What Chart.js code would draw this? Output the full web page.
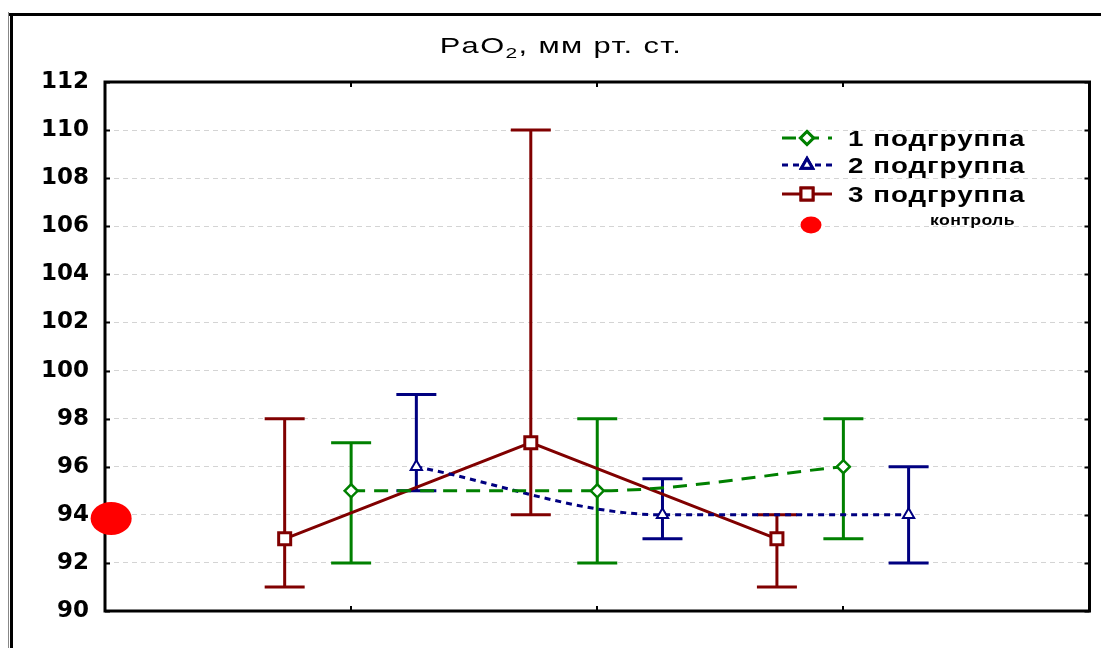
<!DOCTYPE html>
<html><head><meta charset="utf-8">
<script src="https://cdn.jsdelivr.net/npm/chart.js@4/dist/chart.umd.min.js"></script>
<style>html,body{margin:0;padding:0;background:#fff;} #wrap{width:1101px;height:648px;position:relative;}</style>
</head><body><div id="wrap"><canvas id="c" width="1101" height="648"></canvas></div>
<script>
// ---- data ----
const categories = ['1', '2', '3'];
const seriesNames = ['1 подгруппа', '2 подгруппа', '3 подгруппа'];
const controlName = 'контроль';
const titleMain = 'PaO';
const titleSub = '2';
const titleRest = ', мм рт. ст.';
const g1Mean = [95, 95, 96];
const g1Low  = [92, 92, 93];
const g1High = [97, 98, 98];
const g2Mean = [96, 94, 94];
const g2Low  = [95, 93, 92];
const g2High = [99, 95.5, 96];
const g3Mean = [93, 97, 93];
const g3Low  = [91, 94, 91];
const g3High = [98, 110, 94];
const controlValue = [93.85];
const yTicks = [90, 92, 94, 96, 98, 100, 102, 104, 106, 108, 110, 112];

// ---- layout / style ----
const offsets = [0, 0.265, -0.27];
const controlX = 0.025;
const colors = ['#008000', '#000080', '#800000'];

function pts(means, off) { return means.map((v, i) => ({ x: i + 1 + off, y: v })); }

function drawStretched(ctx, text, x, y, font, sx, spacing) {
  ctx.save();
  ctx.font = font; ctx.letterSpacing = spacing + 'px';
  ctx.translate(x, y); ctx.scale(sx, 1);
  ctx.fillText(text, 0, 0);
  ctx.restore();
}

const errorBars = {
  id: 'errorBars',
  beforeDatasetsDraw(chart) {
    const { ctx, chartArea: a, scales: { x, y } } = chart;
    ctx.save();
    ctx.strokeStyle = '#000'; ctx.lineWidth = 3;
    ctx.strokeRect(a.left, a.top, a.right - a.left, a.bottom - a.top);
    ctx.lineWidth = 2;
    yTicks.forEach(t => {
      const py = Math.round(y.getPixelForValue(t)) + 0.5;
      ctx.beginPath();
      ctx.moveTo(a.left, py); ctx.lineTo(a.left + 5, py);
      ctx.moveTo(a.right, py); ctx.lineTo(a.right - 5, py);
      ctx.stroke();
    });
    categories.forEach((c, i) => {
      const px = Math.round(x.getPixelForValue(i + 1));
      ctx.beginPath();
      ctx.moveTo(px, a.top); ctx.lineTo(px, a.top + 5);
      ctx.moveTo(px, a.bottom); ctx.lineTo(px, a.bottom - 5);
      ctx.stroke();
    });
    chart.data.datasets.forEach(ds => {
      if (!ds.low) return;
      ctx.strokeStyle = ds.borderColor; ctx.lineWidth = 3; ctx.setLineDash([]);
      ds.data.forEach((p, i) => {
        const px = x.getPixelForValue(p.x);
        const yl = y.getPixelForValue(ds.low[i]);
        const yh = y.getPixelForValue(ds.high[i]);
        ctx.beginPath();
        ctx.moveTo(px, yl); ctx.lineTo(px, yh);
        ctx.moveTo(px - 20, yl); ctx.lineTo(px + 20, yl);
        ctx.moveTo(px - 20, yh); ctx.lineTo(px + 20, yh);
        ctx.stroke();
      });
    });
    ctx.restore();
  },
  afterDraw(chart) {
    const { ctx } = chart;
    ctx.save();
    // outer frame
    ctx.strokeStyle = '#000'; ctx.lineWidth = 3;
    ctx.beginPath(); ctx.moveTo(8, 14.5); ctx.lineTo(1101, 14.5); ctx.stroke();
    ctx.beginPath(); ctx.moveTo(11.5, 13); ctx.lineTo(11.5, 648); ctx.stroke();
    ctx.strokeStyle = '#888'; ctx.lineWidth = 1;
    ctx.beginPath(); ctx.moveTo(8.5, 12); ctx.lineTo(8.5, 648); ctx.stroke();

    // title
    ctx.fillStyle = '#000'; ctx.textBaseline = 'alphabetic'; ctx.textAlign = 'left';
    const sx = 1.4;
    ctx.letterSpacing = '1px';
    const fMain = '22px "Liberation Sans", Arial, sans-serif';
    const fSub = '15px "Liberation Sans", Arial, sans-serif';
    ctx.font = fMain; const w1 = ctx.measureText(titleMain).width;
    ctx.font = fSub; const w2 = ctx.measureText(titleSub).width;
    ctx.font = fMain; const w3 = ctx.measureText(titleRest).width;
    const total = (w1 + w2 + w3) * sx;
    ctx.translate(561 - total / 2, 53); ctx.scale(sx, 1);
    ctx.font = fMain; ctx.fillText(titleMain, 0, 0);
    ctx.font = fSub; ctx.fillText(titleSub, w1, 5);
    ctx.font = fMain; ctx.fillText(titleRest, w1 + w2, 0);
    ctx.setTransform(1, 0, 0, 1, 0, 0);
    ctx.letterSpacing = '0px';

    // legend
    const rows = [138, 165, 194];
    const ds = chart.data.datasets;
    for (let i = 0; i < 3; i++) {
      const d = ds[i], yy = rows[i];
      ctx.strokeStyle = d.borderColor; ctx.lineWidth = 3;
      ctx.setLineDash(d.borderDash || []);
      ctx.beginPath(); ctx.moveTo(782, yy); ctx.lineTo(832, yy); ctx.stroke();
      ctx.setLineDash([]);
      Chart.helpers.drawPoint(ctx, { pointStyle: d.pointStyle, radius: d.pointRadius, borderWidth: d.pointBorderWidth }, 807, yy);
      ctx.fillStyle = '#fff'; ctx.fill(); ctx.stroke();
      ctx.fillStyle = '#000';
      ctx.textBaseline = 'middle';
      drawStretched(ctx, d.label, 848, yy + 2, 'bold 22px "Liberation Sans", Arial, sans-serif', 1.26, 0.8);
    }
    const c = ds[3];
    ctx.fillStyle = 'red';
    ctx.beginPath(); ctx.ellipse(811, 225, 10.5, 8.5, 0, 0, Math.PI * 2); ctx.fill();
    ctx.fillStyle = '#000';
    ctx.textBaseline = 'middle';
    drawStretched(ctx, c.label, 930, 221, 'bold 15px "Liberation Sans", Arial, sans-serif', 1.18, 0.3);
    ctx.restore();
  }
};

new Chart(document.getElementById('c'), {
  type: 'line',
  data: {
    datasets: [
      { label: seriesNames[0], data: pts(g1Mean, offsets[0]), low: g1Low, high: g1High,
        borderColor: colors[0], borderWidth: 3, borderDash: [14, 9], cubicInterpolationMode: 'monotone',
        pointStyle: 'rectRot', pointRadius: 6.5, pointBorderWidth: 2.5, pointBackgroundColor: '#fff', pointBorderColor: colors[0] },
      { label: seriesNames[1], data: pts(g2Mean, offsets[1]), low: g2Low, high: g2High,
        borderColor: colors[1], borderWidth: 3, borderDash: [6, 5], cubicInterpolationMode: 'monotone',
        pointStyle: 'triangle', pointRadius: 6.5, pointBorderWidth: 2, pointBackgroundColor: '#fff', pointBorderColor: colors[1] },
      { label: seriesNames[2], data: pts(g3Mean, offsets[2]), low: g3Low, high: g3High,
        borderColor: colors[2], borderWidth: 3, tension: 0,
        pointStyle: 'rect', pointRadius: 8.5, pointBorderWidth: 3, pointBackgroundColor: '#fff', pointBorderColor: colors[2] },
      { label: controlName, data: controlValue.map(v => ({ x: controlX, y: v })), showLine: false,
        pointStyle: 'circle', pointRadius: 0, borderColor: 'red', backgroundColor: 'red', clip: false }
    ]
  },
  options: {
    responsive: false, animation: false,
    layout: { padding: { left: 0, top: 82, right: 6, bottom: 37 } },
    plugins: { legend: { display: false }, title: { display: false }, tooltip: { enabled: false } },
    scales: {
      x: { type: 'linear', min: 0, max: 4, display: false },
      y: { min: 90, max: 112,
        afterBuildTicks: s => { s.ticks = yTicks.map(v => ({ value: v })); },
        afterFit: s => { s.width = 105; },
        grid: { color: '#d4d4d4', lineWidth: 1, drawTicks: false },
        border: { display: false, dash: [5, 4] },
        ticks: { color: '#000', padding: 16, font: { family: '"DejaVu Sans"', size: 23, weight: 'bold' } } }
    }
  },
  plugins: [errorBars, {
    id: 'controlPoint',
    afterDatasetsDraw(chart) {
      const { ctx, scales: { x, y } } = chart;
      const d = chart.data.datasets[3];
      ctx.save(); ctx.fillStyle = d.backgroundColor;
      d.data.forEach(p => {
        ctx.beginPath();
        ctx.ellipse(x.getPixelForValue(p.x), y.getPixelForValue(p.y), 20.5, 16.5, 0, 0, Math.PI * 2);
        ctx.fill();
      });
      ctx.restore();
    }
  }]
});
</script></body></html>
